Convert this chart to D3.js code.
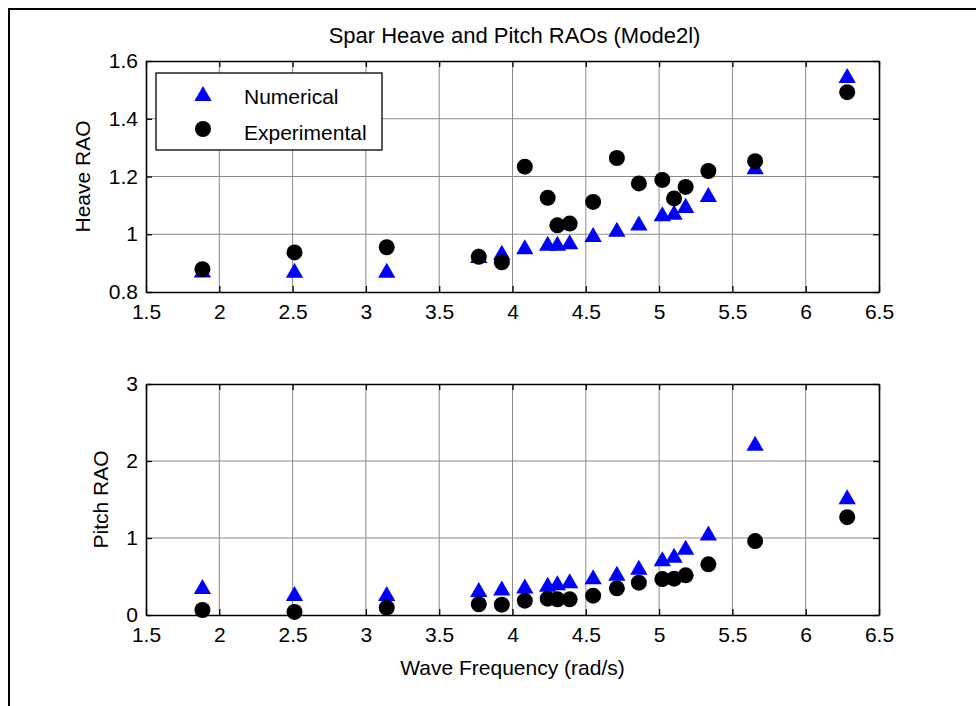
<!DOCTYPE html>
<html>
<head>
<meta charset="utf-8">
<script src="https://cdn.jsdelivr.net/npm/d3@7"></script>
<style>
  body { margin: 0; background: #fff; }
  text { font-family: "Liberation Sans", Arial, sans-serif; fill: #000; }
</style>
</head>
<body>
<div id="chart"></div>
<script>
// wave frequencies (rad/s)
var freq = [1.885, 2.513, 3.142, 3.770, 3.927, 4.084, 4.240, 4.306, 4.390, 4.550, 4.712, 4.862, 5.022, 5.102, 5.181, 5.336, 5.655, 6.283];
var heaveNum = [0.876, 0.875, 0.875, 0.926, 0.938, 0.957, 0.969, 0.969, 0.974, 0.999, 1.017, 1.039, 1.071, 1.076, 1.100, 1.138, 1.234, 1.550];
var heaveExp = [0.879, 0.937, 0.955, 0.922, 0.903, 1.234, 1.126, 1.031, 1.037, 1.112, 1.264, 1.176, 1.188, 1.124, 1.164, 1.219, 1.253, 1.492];
var pitchNum = [0.37, 0.28, 0.28, 0.33, 0.35, 0.377, 0.40, 0.42, 0.446, 0.498, 0.541, 0.619, 0.73, 0.775, 0.879, 1.065, 2.23, 1.536];
var pitchExp = [0.065, 0.04, 0.095, 0.14, 0.134, 0.186, 0.212, 0.203, 0.203, 0.251, 0.346, 0.42, 0.467, 0.472, 0.515, 0.658, 0.96, 1.27];

var xTicks = [1.5, 2, 2.5, 3, 3.5, 4, 4.5, 5, 5.5, 6, 6.5];
var heaveTicks = [0.8, 1, 1.2, 1.4, 1.6];
var pitchTicks = [0, 1, 2, 3];
var legendLabels = ["Numerical", "Experimental"];

var W = 976, H = 706;
var svg = d3.select("#chart").append("svg")
    .attr("width", W).attr("height", H);

// figure frame (top + left edges only visible)
svg.append("path")
    .attr("d", "M9,706 V9 H976")
    .attr("fill", "none").attr("stroke", "#000").attr("stroke-width", 2);

var left = 146, right = 879;
var tri = d3.symbol().type(d3.symbolTriangle).size(130);

function drawPanel(top, bottom, domain, yTicks, yFmt, num, exp, ylabel, labelX) {
    var x = d3.scaleLinear().domain([1.5, 6.5]).range([left, right]);
    var y = d3.scaleLinear().domain(domain).range([bottom, top]);
    var g = svg.append("g");

    // grid
    g.selectAll(".gx").data(xTicks.slice(1, -1)).enter().append("line")
        .attr("x1", function(d) { return x(d); }).attr("x2", function(d) { return x(d); })
        .attr("y1", top).attr("y2", bottom)
        .attr("stroke", "#8a8a8a").attr("stroke-width", 1);
    g.selectAll(".gy").data(yTicks.slice(1, -1)).enter().append("line")
        .attr("x1", left).attr("x2", right)
        .attr("y1", function(d) { return y(d); }).attr("y2", function(d) { return y(d); })
        .attr("stroke", "#8a8a8a").attr("stroke-width", 1);

    // axes with inward ticks, mirrored on top/right
    var ax = g.append("g").attr("transform", "translate(0," + bottom + ")")
        .call(d3.axisBottom(x).tickValues(xTicks).tickSizeInner(-6).tickSizeOuter(0).tickPadding(12)
            .tickFormat(d3.format("")));
    var axT = g.append("g").attr("transform", "translate(0," + top + ")")
        .call(d3.axisTop(x).tickValues(xTicks).tickSizeInner(-6).tickSizeOuter(0).tickFormat(""));
    var ay = g.append("g").attr("transform", "translate(" + left + ",0)")
        .call(d3.axisLeft(y).tickValues(yTicks).tickSizeInner(-6).tickSizeOuter(0).tickPadding(8)
            .tickFormat(yFmt));
    var ayR = g.append("g").attr("transform", "translate(" + right + ",0)")
        .call(d3.axisRight(y).tickValues(yTicks).tickSizeInner(-6).tickSizeOuter(0).tickFormat(""));
    [ax, axT, ay, ayR].forEach(function(a) {
        a.select(".domain").attr("stroke", "#000").attr("stroke-width", 1.6);
        a.selectAll(".tick line").attr("stroke", "#000").attr("stroke-width", 1.3);
        a.selectAll("text").style("font-size", "21px")
            .style("font-family", "'Liberation Sans', Arial, sans-serif").attr("fill", "#000");
    });

    // markers: numerical first, experimental drawn over
    g.selectAll(".num").data(freq).enter().append("path")
        .attr("d", tri)
        .attr("transform", function(d, i) { return "translate(" + x(d) + "," + (y(num[i]) + 2.5) + ")"; })
        .attr("fill", "#0000ff");
    g.selectAll(".exp").data(freq).enter().append("circle")
        .attr("cx", function(d) { return x(d); })
        .attr("cy", function(d, i) { return y(exp[i]); })
        .attr("r", 8).attr("fill", "#000");

    svg.append("text")
        .attr("transform", "translate(" + labelX + "," + ((top + bottom) / 2) + ") rotate(-90)")
        .attr("text-anchor", "middle")
        .style("font-size", "21px")
        .text(ylabel);
    return { x: x, y: y, g: g };
}

drawPanel(61, 292, [0.8, 1.6], heaveTicks, d3.format(""), heaveNum, heaveExp, "Heave RAO", 90);
drawPanel(384, 615, [0, 3], pitchTicks, d3.format("d"), pitchNum, pitchExp, "Pitch RAO", 108);

// title
svg.append("text")
    .attr("x", (left + right) / 2 + 2).attr("y", 43)
    .attr("text-anchor", "middle")
    .style("font-size", "22px")
    .text("Spar Heave and Pitch RAOs (Mode2l)");

// x label
svg.append("text")
    .attr("x", (left + right) / 2).attr("y", 675)
    .attr("text-anchor", "middle")
    .style("font-size", "21px")
    .text("Wave Frequency (rad/s)");

// legend
var lg = svg.append("g");
lg.append("rect")
    .attr("x", 156).attr("y", 73).attr("width", 226).attr("height", 77)
    .attr("fill", "#fff").attr("stroke", "#000").attr("stroke-width", 1.3);
lg.append("path")
    .attr("d", tri)
    .attr("transform", "translate(203,96)")
    .attr("fill", "#0000ff");
lg.append("circle").attr("cx", 203).attr("cy", 129).attr("r", 8).attr("fill", "#000");
lg.selectAll(".lt").data(legendLabels).enter().append("text")
    .attr("x", 244).attr("y", function(d, i) { return 104 + i * 36; })
    .style("font-size", "21px")
    .text(function(d) { return d; });
</script>
</body>
</html>
